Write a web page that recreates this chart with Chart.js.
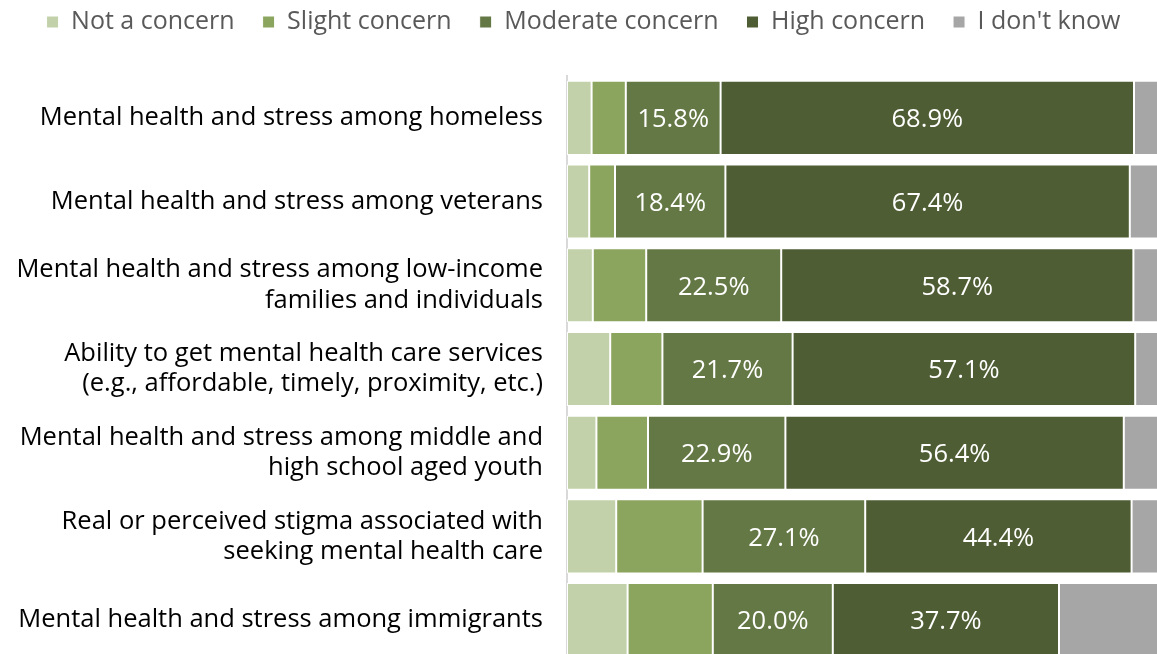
<!DOCTYPE html>
<html>
<head>
<meta charset="utf-8">
<script src="https://cdn.jsdelivr.net/npm/chart.js@4.4.1/dist/chart.umd.min.js"></script>
<style>
  html, body { margin: 0; padding: 0; background: #ffffff; overflow: hidden; }
  #wrap { width: 1184px; height: 701px; }
</style>
</head>
<body>
<div id="wrap"><canvas id="c" width="1184" height="701"></canvas></div>
<script>
const categories = [
  "Mental health and stress among homeless",
  "Mental health and stress among veterans",
  ["Mental health and stress among low-income", "families and individuals"],
  ["Ability to get mental health care services", "(e.g., affordable, timely, proximity, etc.)"],
  ["Mental health and stress among middle and", "high school aged youth"],
  ["Real or perceived stigma associated with", "seeking mental health care"],
  "Mental health and stress among immigrants"
];
const seriesNames = ["Not a concern", "Slight concern", "Moderate concern", "High concern", "I don't know"];
const notConcern      = [4.1, 3.7, 4.3, 7.2, 4.9, 8.2, 10.1];
const slightConcern   = [5.7, 4.3, 8.9, 8.7, 8.6, 14.4, 14.2];
const moderateConcern = [15.8, 18.4, 22.5, 21.7, 22.9, 27.1, 20.0];
const highConcern     = [68.9, 67.4, 58.7, 57.1, 56.4, 44.4, 37.7];
const dontKnow        = [5.5, 6.2, 5.6, 5.3, 7.2, 5.9, 18.0];
const colors = ["#C3D1AA", "#8BA45E", "#647845", "#4E5D33", "#A6A6A6"];
const labelled = [false, false, true, true, false];

const FONT = "'Open Sans', 'DejaVu Sans', sans-serif";

const allSeries = [notConcern, slightConcern, moderateConcern, highConcern, dontKnow];
const datasets = allSeries.map((d, i) => ({
  label: seriesNames[i],
  data: d,
  backgroundColor: colors[i],
  borderColor: "#ffffff",
  borderWidth: 1,
  borderSkipped: false,
  barPercentage: 1.0,
  categoryPercentage: 0.885,
  showValue: labelled[i]
}));

const valueLabels = {
  id: "valueLabels",
  afterDatasetsDraw(chart) {
    const ctx = chart.ctx;
    ctx.save();
    ctx.fillStyle = "#ffffff";
    ctx.font = "25.5px " + FONT;
    ctx.textAlign = "center";
    ctx.textBaseline = "middle";
    chart.data.datasets.forEach((ds, i) => {
      if (!ds.showValue) return;
      const meta = chart.getDatasetMeta(i);
      meta.data.forEach((el, j) => {
        const p = el.getCenterPoint();
        ctx.fillText(ds.data[j].toFixed(1) + "%", p.x, p.y + 2);
      });
    });
    ctx.restore();
  }
};

new Chart(document.getElementById("c"), {
  type: "bar",
  data: { labels: categories, datasets: datasets },
  options: {
    indexAxis: "y",
    responsive: false,
    animation: false,
    layout: { padding: { left: 0, right: 17, top: -18.5, bottom: 0 } },
    plugins: {
      legend: {
        position: "top",
        labels: {
          boxWidth: 12,
          boxHeight: 12,
          padding: 28,
          color: "#595959",
          font: { family: FONT, size: 25 }
        }
      },
      title: {
        display: true,
        text: " ",
        weight: 500,
        font: { size: 10, lineHeight: 1 },
        padding: { top: 0, bottom: 21.5 }
      },
      tooltip: { enabled: false }
    },
    scales: {
      x: {
        stacked: true,
        min: 0,
        max: 100,
        display: false
      },
      y: {
        stacked: true,
        grid: { display: false, drawTicks: false },
        border: { display: true, color: "#D9D9D9", width: 2 },
        ticks: {
          color: "#000000",
          padding: 24,
          font: { family: FONT, size: 25.5, lineHeight: 1.18 }
        },
        afterFit(scale) { scale.width = 567; }
      }
    }
  },
  plugins: [valueLabels]
});
</script>
</body>
</html>
